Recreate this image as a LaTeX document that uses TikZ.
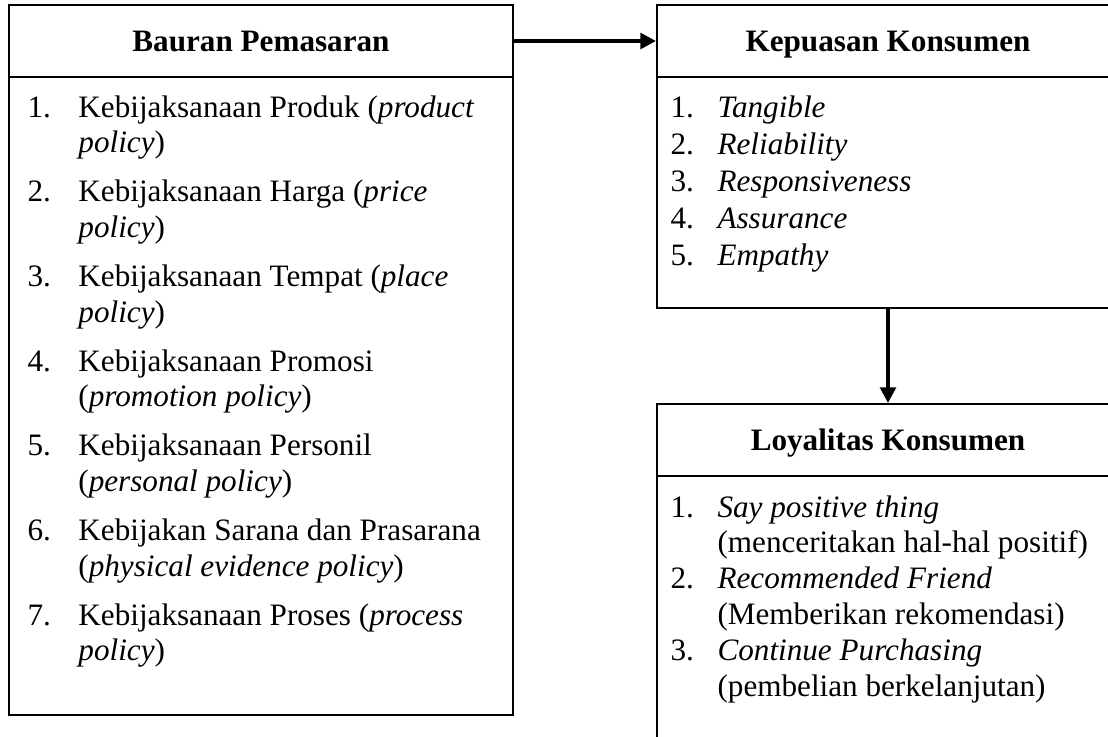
\documentclass[tikz,border=0pt]{standalone}
\usepackage{fontspec}
\setmainfont{Liberation Serif}
\usepackage{array}
\usetikzlibrary{arrows.meta, positioning, fit}

\newcommand{\twelve}{\fontsize{12pt}{13.8pt}\selectfont}

\begin{document}
\begin{tikzpicture}[
  x=0.385pt, y=-0.385pt,
  cell/.style={rectangle, draw=black, line width=0.8pt, inner sep=0pt},
  judul/.style={label={[font=\twelve\bfseries, inner sep=0pt, text height=9.5pt, text depth=1.5pt]center:#1}},
  list/.style={anchor=base west, inner sep=0pt, align=left, font=\twelve},
  arrow/.style={-{Triangle[length=6pt,width=6pt]}, line width=1.4pt}
]
\useasboundingbox (0,0) rectangle (1108,736);
\clip (0,0) rectangle (1108,736);

% kotak kiri
\node[cell, fit={(9,5) (513,77)}, judul={Bauran Pemasaran}] (bauran) {};
\node[cell, fit={(9,77) (513,715)}] (bauranIsi) {};
\node[list] (bauranList) at (27,117) {%
  \begin{tabular}[t]{@{}p{19.6pt}@{}l@{}}
  1. & Kebijaksanaan Produk (\textit{product}\\ & \textit{policy})\\[5pt]
  2. & Kebijaksanaan Harga (\textit{price}\\ & \textit{policy})\\[5pt]
  3. & Kebijaksanaan Tempat (\textit{place}\\ & \textit{policy})\\[5pt]
  4. & Kebijaksanaan Promosi\\ & (\textit{promotion policy})\\[5pt]
  5. & Kebijaksanaan Personil\\ & (\textit{personal policy})\\[5pt]
  6. & Kebijakan Sarana dan Prasarana\\ & (\textit{physical evidence policy})\\[5pt]
  7. & Kebijaksanaan Proses (\textit{process}\\ & \textit{policy})
  \end{tabular}};

% kotak kanan atas
\node[cell, fit={(657,5) (1119,77)}, judul={Kepuasan Konsumen}] (kepuasan) {};
\node[cell, fit={(657,77) (1119,308)}] (kepuasanIsi) {};
\node[list] (kepuasanList) at (670,117) {%
  \begin{tabular}[t]{@{}p{18.1pt}@{}l@{}}
  1. & \textit{Tangible}\\[0.5pt]
  2. & \textit{Reliability}\\[0.5pt]
  3. & \textit{Responsiveness}\\[0.5pt]
  4. & \textit{Assurance}\\[0.5pt]
  5. & \textit{Empathy}
  \end{tabular}};

% kotak kanan bawah
\node[cell, fit={(657,404) (1119,476)}, judul={Loyalitas Konsumen}] (loyalitas) {};
\node[cell, fit={(657,476) (1119,760)}] (loyalitasIsi) {};
\node[list] (loyalitasList) at (670,517) {%
  \begin{tabular}[t]{@{}p{18.1pt}@{}l@{}}
  1. & \textit{Say positive thing}\\ & (menceritakan hal-hal positif)\\
  2. & \textit{Recommended Friend}\\ & (Memberikan rekomendasi)\\
  3. & \textit{Continue Purchasing}\\ & (pembelian berkelanjutan)
  \end{tabular}};

\draw[arrow] (bauran.east) -- (kepuasan.west);
\draw[arrow] (kepuasanIsi.south) -- (loyalitas.north);
\end{tikzpicture}
\end{document}
